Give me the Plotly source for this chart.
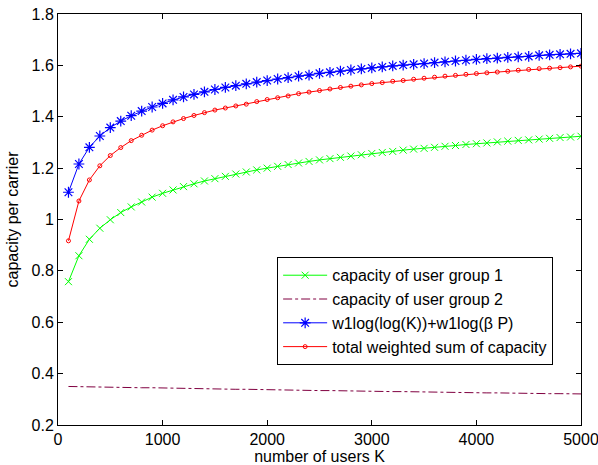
import plotly.graph_objects as go

K = list(range(100, 5001, 100))

group1 = [0.758, 0.859, 0.923, 0.966, 0.999, 1.027, 1.049, 1.068, 1.087, 1.102,
          1.115, 1.128, 1.139, 1.150, 1.159, 1.168, 1.177, 1.185, 1.193, 1.200,
          1.207, 1.214, 1.220, 1.226, 1.232, 1.237, 1.242, 1.247, 1.252, 1.257,
          1.261, 1.265, 1.270, 1.274, 1.277, 1.281, 1.285, 1.288, 1.292, 1.295,
          1.298, 1.302, 1.305, 1.308, 1.310, 1.313, 1.316, 1.319, 1.321, 1.324]

group2 = [0.350, 0.349, 0.349, 0.348, 0.347, 0.347, 0.346, 0.345, 0.345, 0.344,
          0.343, 0.343, 0.342, 0.341, 0.341, 0.340, 0.339, 0.339, 0.338, 0.337,
          0.337, 0.336, 0.335, 0.335, 0.334, 0.334, 0.333, 0.332, 0.332, 0.331,
          0.331, 0.330, 0.330, 0.329, 0.328, 0.328, 0.327, 0.327, 0.326, 0.326,
          0.325, 0.325, 0.324, 0.324, 0.323, 0.323, 0.322, 0.322, 0.321, 0.321]

approx = [1.106, 1.216, 1.281, 1.325, 1.358, 1.383, 1.404, 1.422, 1.438, 1.452,
          1.466, 1.477, 1.487, 1.497, 1.506, 1.514, 1.521, 1.528, 1.535, 1.541,
          1.547, 1.552, 1.558, 1.562, 1.569, 1.573, 1.578, 1.582, 1.586, 1.590,
          1.594, 1.598, 1.601, 1.604, 1.607, 1.611, 1.614, 1.617, 1.620, 1.623,
          1.626, 1.628, 1.631, 1.633, 1.635, 1.639, 1.641, 1.643, 1.645, 1.647]

total = [0.917, 1.072, 1.154, 1.209, 1.249, 1.280, 1.307, 1.328, 1.348, 1.365,
         1.380, 1.393, 1.405, 1.416, 1.426, 1.434, 1.442, 1.449, 1.459, 1.467,
         1.474, 1.481, 1.490, 1.496, 1.502, 1.508, 1.514, 1.519, 1.524, 1.529,
         1.533, 1.538, 1.541, 1.546, 1.550, 1.554, 1.558, 1.561, 1.565, 1.568,
         1.571, 1.574, 1.577, 1.581, 1.584, 1.587, 1.589, 1.591, 1.594, 1.597]

names = ["capacity of user group 1", "capacity of user group 2",
         "w1log(log(K))+w1log(β P)", "total weighted sum of capacity"]

x_ticks = [0, 1000, 2000, 3000, 4000, 5000]
y_ticks = [0.2, 0.4, 0.6, 0.8, 1.0, 1.2, 1.4, 1.6, 1.8]
y_labels = ["0.2", "0.4", "0.6", "0.8", "1", "1.2", "1.4", "1.6", "1.8"]

FONT = "Liberation Sans, Arial, Helvetica"

fig = go.Figure()
fig.add_trace(go.Scatter(x=K, y=group1, name=names[0], mode="lines+markers",
                         line=dict(color="#00ff00", width=1),
                         marker=dict(symbol="x-thin-open", size=7,
                                     line=dict(color="#00ff00", width=1)),
                         legendgroup="a"))
fig.add_trace(go.Scatter(x=K, y=group2, name=names[1], mode="lines",
                         line=dict(color="#800040", width=1, dash="dashdot"),
                         legendgroup="b"))
fig.add_trace(go.Scatter(x=K, y=approx, name=names[2], mode="lines+markers",
                         line=dict(color="#0000ff", width=1),
                         marker=dict(symbol="asterisk-open", size=9,
                                     line=dict(color="#0000ff", width=1.2)),
                         legendgroup="c"))
fig.add_trace(go.Scatter(x=K, y=total, name=names[3], mode="lines+markers",
                         line=dict(color="#ff0000", width=1),
                         marker=dict(symbol="circle-open", size=4,
                                     line=dict(color="#ff0000", width=1)),
                         legendgroup="d"))

axis_common = dict(showline=True, linecolor="black", linewidth=1, mirror="ticks",
                   ticks="inside", ticklen=5, tickcolor="black", showgrid=False,
                   zeroline=False, automargin=False, ticklabeloverflow="allow",
                   tickfont=dict(family=FONT, size=16, color="black"))

fig.update_layout(
    width=598, height=465,
    margin=dict(l=58, r=17, t=14, b=40),
    paper_bgcolor="white", plot_bgcolor="white",
    font=dict(family=FONT, size=16, color="black"),
    xaxis=dict(range=[0, 5000], tickvals=x_ticks,
               title=dict(text="number of users K", standoff=0,
                          font=dict(size=16)), **axis_common),
    yaxis=dict(range=[0.2, 1.8], tickvals=y_ticks, ticktext=y_labels,
               title=dict(text="capacity per carrier", standoff=8,
                          font=dict(size=16)), **axis_common),
    legend=dict(x=0.419, y=0.408, xanchor="left", yanchor="top",
                bgcolor="white", bordercolor="black", borderwidth=1,
                font=dict(size=16), traceorder="grouped", tracegroupgap=0,
                itemwidth=44),
    showlegend=True,
)

fig.write_html("out.html", config={"displayModeBar": False},
               post_script="document.body.style.margin='0';document.body.style.padding='0';")
